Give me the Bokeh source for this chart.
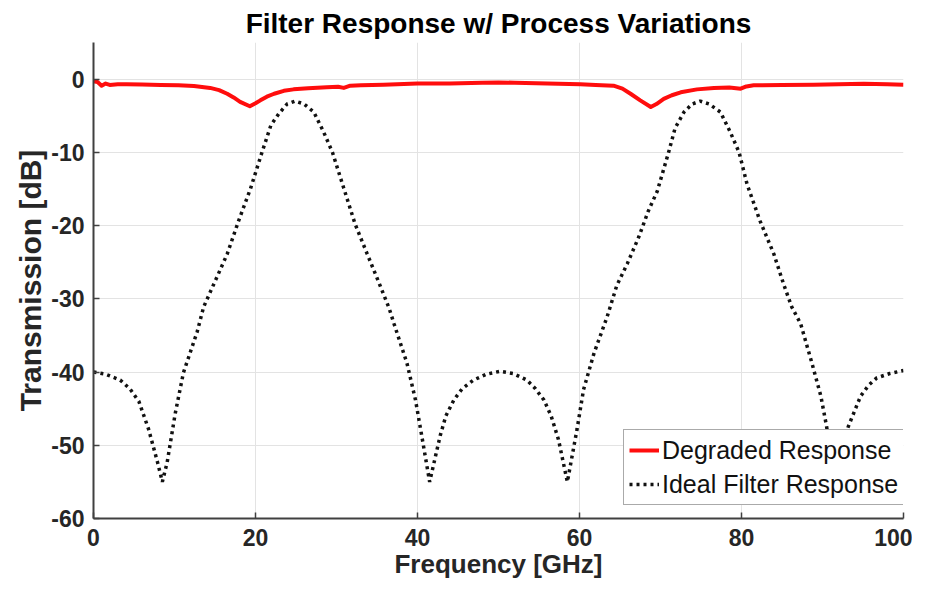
from bokeh.plotting import figure
from bokeh.models import (Range1d, FixedTicker, Legend, LegendItem, ColumnDataSource)
from bokeh.embed import file_html
from bokeh.resources import INLINE

# ---------------- data ----------------
ideal_freq = [0, 1.5, 3.3, 4.5, 5.6, 6.8, 7.9, 8.5, 9.1, 10.1, 11.1, 12.8, 13.6, 16.5, 17.9,
              19.4, 20.8, 21.9, 22.9, 23.9, 24.9, 26.0, 27.2, 28.4, 29.5, 30.9, 32.3, 33.8,
              35.2, 36.5, 37.1, 38.7, 39.75, 40.6, 41.5, 42.8, 43.5, 44.5, 45.5, 46.9, 48.5,
              50.2, 51.8, 53.5, 54.5, 55.6, 56.5, 57.4, 58.5, 59.7, 60.5, 61.8, 63.4, 64.6,
              65.9, 67.3, 68.5, 69.6, 71.0, 71.8, 72.9, 73.9, 74.9, 76.0, 77.4, 78.6, 79.7,
              80.7, 82.3, 84.0, 85.2, 86.2, 87.3, 88.7, 89.8, 90.5, 91.5, 92.4, 93.2, 94.7,
              95.7, 96.7, 98.3, 100]
ideal_db = [-40, -40.3, -41.1, -42.3, -44, -47.8, -52.3, -55, -52.3, -45.6, -40.1, -34.5, -31.1,
            -23.9, -19.4, -14.9, -10, -6.3, -4.7, -3.4, -3.0, -3.4, -4.5, -7.2, -10, -14.9,
            -19.8, -23.9, -27.7, -31.3, -33.4, -38.8, -43.8, -49.2, -55, -48.7, -46, -43.8,
            -42.3, -41.1, -40.3, -39.9, -40.2, -41.1, -42.2, -43.8, -46, -49.2, -55, -47.8,
            -42.4, -37.4, -32.5, -28.2, -25.2, -21.6, -18, -15.3, -10, -6.7, -4.5, -3.4, -3.0,
            -3.4, -4.5, -7.2, -10, -14.4, -19.4, -23.9, -28, -31.1, -33.4, -38.8, -43.3,
            -47.4, -55, -50, -47.4, -43.3, -41.8, -40.8, -40.2, -39.8]

degraded_freq = [0, 0.5, 1.0, 1.5, 2.0, 3.0, 4.1, 6.0, 8.3, 10.5, 12.4, 14.4, 15.5, 16.5, 17.3,
                 18.1, 19.3, 20.0, 20.6, 21.4, 22.3, 23.5, 24.7, 26.5, 28.8, 30.2, 30.9, 31.7,
                 33.0, 35.8, 40.0, 44.0, 48.0, 50.0, 52.0, 56.0, 60.1, 62.0, 64.2, 65.3, 66.3,
                 67.5, 68.8, 69.5, 70.4, 71.4, 72.5, 74.5, 76.6, 78.5, 79.9, 80.6, 81.5, 85.0,
                 88.9, 92.0, 95.1, 98.0, 100]
degraded_db = [-0.3, -0.4, -0.9, -0.6, -0.8, -0.7, -0.7, -0.75, -0.8, -0.85, -0.95, -1.2, -1.5,
               -2.0, -2.5, -3.1, -3.7, -3.3, -2.9, -2.4, -2.0, -1.6, -1.4, -1.25, -1.1, -1.05,
               -1.2, -0.9, -0.85, -0.77, -0.6, -0.6, -0.5, -0.45, -0.5, -0.6, -0.7, -0.8, -0.9,
               -1.3, -2.0, -2.9, -3.8, -3.4, -2.7, -2.2, -1.8, -1.4, -1.2, -1.15, -1.3, -1.0,
               -0.85, -0.8, -0.77, -0.7, -0.63, -0.7, -0.77]

x_ticks = [0, 20, 40, 60, 80, 100]
x_tick_labels = ["0", "20", "40", "60", "80", "100"]
y_ticks = [-60, -50, -40, -30, -20, -10, 0]
y_tick_labels = ["-60", "-50", "-40", "-30", "-20", "-10", "0"]

title_text = "Filter Response w/ Process Variations"
x_label = "Frequency [GHz]"
y_label = "Transmission [dB]"
series_names = ["Degraded Response", "Ideal Filter Response"]

FONT = "Liberation Sans"

# ---------------- figure ----------------
p = figure(width=912, height=581, output_backend="svg", toolbar_location=None,
           x_range=Range1d(0, 100), y_range=Range1d(-60, 5),
           min_border_left=93, min_border_right=9, min_border_top=42, min_border_bottom=62)
p.outline_line_color = None
p.background_fill_color = "white"
p.border_fill_color = "white"

# title
p.title.text = title_text
p.title.align = "center"
p.title.text_font = FONT
p.title.text_font_style = "bold"
p.title.text_font_size = "28px"
p.title.text_color = "black"
p.title.standoff = 7

# grid
for g in (p.xgrid, p.ygrid):
    g.grid_line_color = "#e3e3e3"
    g.grid_line_width = 1
p.xgrid.ticker = FixedTicker(ticks=x_ticks)
p.ygrid.ticker = FixedTicker(ticks=y_ticks)

# axes
p.xaxis.ticker = FixedTicker(ticks=x_ticks)
p.yaxis.ticker = FixedTicker(ticks=y_ticks)
p.xaxis.major_label_overrides = {t: s for t, s in zip(x_ticks, x_tick_labels)}
p.yaxis.major_label_overrides = {t: s for t, s in zip(y_ticks, y_tick_labels)}
for ax in (p.xaxis, p.yaxis):
    ax.axis_line_color = "#404040"
    ax.axis_line_width = 2
    ax.major_tick_line_color = "#404040"
    ax.major_tick_line_width = 1.5
    ax.major_tick_in = 6
    ax.major_tick_out = 0
    ax.minor_tick_line_color = None
    ax.major_label_text_font = FONT
    ax.major_label_text_font_style = "bold"
    ax.major_label_text_font_size = "23px"
    ax.major_label_text_color = "#262626"
    ax.axis_label_text_font = FONT
    ax.axis_label_text_font_style = "bold"
    ax.axis_label_text_color = "#262626"
p.xaxis.major_label_standoff = 10
p.yaxis.major_label_standoff = 9
p.xaxis.axis_label = x_label
p.xaxis.axis_label_text_font_size = "26px"
p.xaxis.axis_label_standoff = 0
p.yaxis.axis_label = y_label
p.yaxis.axis_label_text_font_size = "30px"
p.yaxis.axis_label_standoff = 1

# data lines
src_ideal = ColumnDataSource(dict(x=ideal_freq, y=ideal_db))
src_deg = ColumnDataSource(dict(x=degraded_freq, y=degraded_db))
r_ideal = p.line("x", "y", source=src_ideal, line_color="#111111", line_width=3.5,
                 line_dash="3 4", line_cap="butt")
r_deg = p.line("x", "y", source=src_deg, line_color="#ff0d0d", line_width=4,
               line_join="round")

# legend
legend = Legend(items=[LegendItem(label=series_names[0], renderers=[r_deg]),
                       LegendItem(label=series_names[1], renderers=[r_ideal])],
                location=(530, 13))
legend.label_text_font = FONT
legend.label_text_font_size = "25px"
legend.label_text_color = "#111111"
legend.label_height = 30
legend.label_standoff = 3
legend.glyph_width = 30
legend.glyph_height = 30
legend.spacing = 4
legend.padding = 5
legend.margin = 0
legend.border_line_color = "#555555"
legend.border_line_width = 1
legend.background_fill_color = "white"
legend.background_fill_alpha = 1.0
p.add_layout(legend, "center")

open("out.html", "w").write(file_html(p, INLINE))
